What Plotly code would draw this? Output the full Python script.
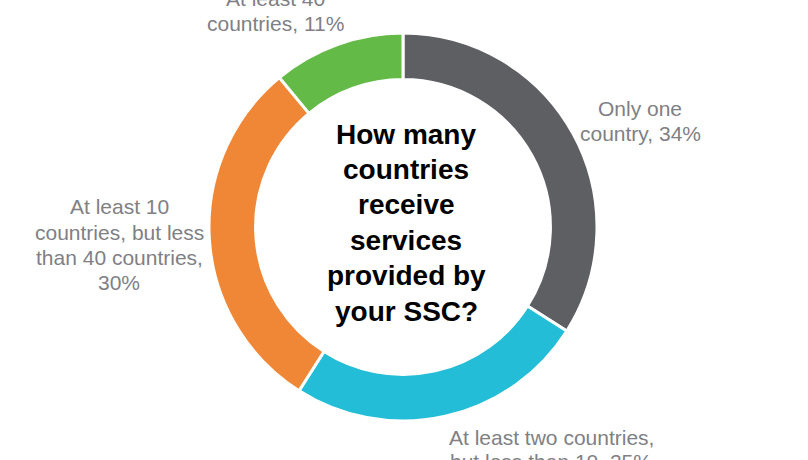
import plotly.graph_objects as go

# ---- data ----
categories = [
    "Only one<br>country",
    "At least two countries,<br>but less than 10",
    "At least 10<br>countries, but less<br>than 40 countries",
    "At least 40<br>countries",
]
values = [34, 25, 30, 11]
separators = [", ", ", ", ",<br>", ", "]
colors = ["#5e5f63", "#24bdd7", "#f08736", "#63ba46"]
center_title = ["How many", "countries", "receive", "services", "provided by", "your SSC?"]

W, H = 808, 460

fig = go.Figure()
fig.add_trace(go.Pie(
    labels=[c.replace("<br>", " ") for c in categories],
    values=values,
    sort=False,
    direction="clockwise",
    rotation=0,
    hole=0.76,
    marker=dict(colors=colors, line=dict(color="white", width=3)),
    textinfo="none",
    hoverinfo="label+percent",
    showlegend=False,
    domain=dict(x=[209 / W, 597 / W], y=[(460 - 227 - 194) / H, (460 - 227 + 194) / H]),
))

# label placement (pixel centres of first line, line pitch)
label_pos = [(640, 109, 24.5), (551, 437, 24.5), (119, 207, 25), (275, -1, 24)]
annotations = []
for cat, val, sep, (px, py, pitch) in zip(categories, values, separators, label_pos):
    text = f"{cat}{sep}{val}%"
    for i, line in enumerate(text.split("<br>")):
        annotations.append(dict(
            x=px / W, y=1 - (py + i * pitch) / H, xref="paper", yref="paper",
            text=line, showarrow=False, xanchor="center", yanchor="middle",
            font=dict(family="Liberation Sans, Arial, sans-serif", size=21, color="#808085"),
        ))

for i, line in enumerate(center_title):
    annotations.append(dict(
        x=406 / W, y=1 - (134 + i * 35.4) / H, xref="paper", yref="paper",
        text=f"<b>{line}</b>", showarrow=False, xanchor="center", yanchor="middle",
        font=dict(family="Liberation Sans, Arial, sans-serif", size=28, color="#000000"),
    ))

fig.update_layout(
    width=W, height=H,
    margin=dict(l=0, r=0, t=0, b=0),
    paper_bgcolor="white", plot_bgcolor="white",
    annotations=annotations,
)

fig.write_html("out.html", config={"displayModeBar": False},
               post_script="document.body.style.margin='0';")
